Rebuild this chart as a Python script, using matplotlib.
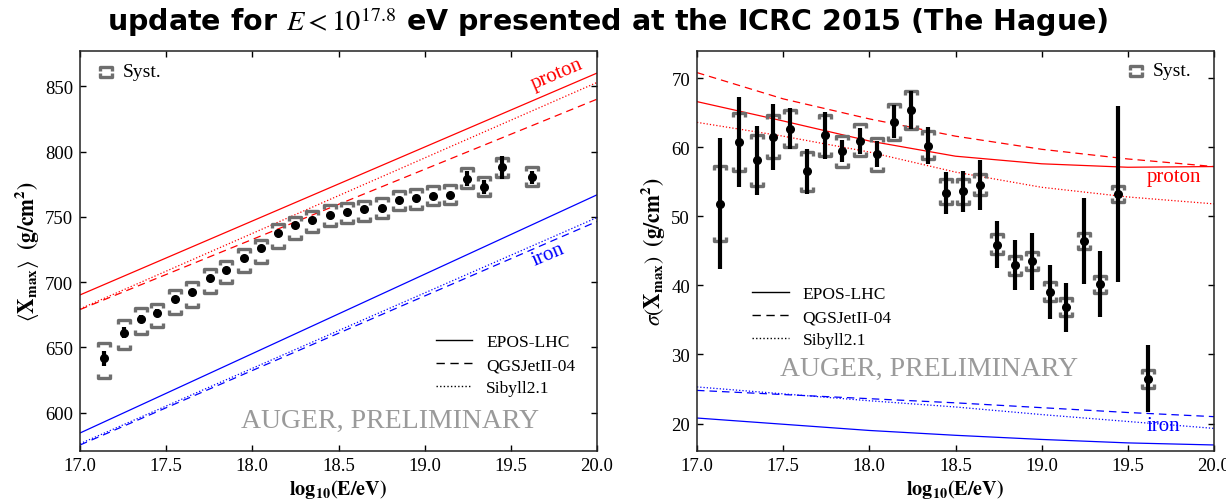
import numpy as np
import matplotlib
matplotlib.use("Agg")
import matplotlib.pyplot as plt
from matplotlib.path import Path
from matplotlib.lines import Line2D

plt.rcParams['font.family'] = ['Liberation Serif', 'DejaVu Serif']
plt.rcParams['mathtext.fontset'] = 'stix'

# ---- <Xmax> data (left panel)
lgE_mean = [17.14, 17.255, 17.355, 17.448, 17.552, 17.65, 17.753, 17.849, 17.95, 18.05,
            18.148, 18.25, 18.349, 18.449, 18.549, 18.648, 18.75, 18.851, 18.949, 19.049,
            19.148, 19.248, 19.343, 19.451, 19.623]
xmax_mean = [641.6, 661.3, 672.1, 676.7, 687.4, 692.8, 703.5, 709.4, 718.6, 725.8,
             737.3, 743.9, 747.7, 751.8, 754.1, 755.7, 756.9, 763.0, 764.1, 766.1,
             766.9, 779.4, 772.8, 787.9, 780.2]
xmax_stat = [5.5, 4.0, 2.5, 2.5, 2.0, 2.0, 2.0, 2.0, 2.0, 2.0,
             2.0, 2.0, 2.0, 2.0, 2.0, 2.0, 2.0, 2.0, 2.0, 2.5,
             2.5, 5.5, 5.5, 8.5, 5.0]
xmax_syst_hi = [653.7, 671.0, 680.5, 683.0, 694.0, 700.4, 710.4, 716.4, 725.2, 732.4,
                744.4, 750.3, 754.6, 759.2, 761.0, 762.3, 764.1, 770.0, 771.2, 773.8,
                774.3, 787.1, 780.7, 795.5, 787.9]
xmax_syst_lo = [626.8, 649.0, 660.0, 665.7, 675.4, 681.3, 692.0, 699.0, 707.8, 715.0,
                726.5, 733.4, 738.5, 743.1, 745.7, 747.0, 749.0, 755.1, 756.4, 759.0,
                759.8, 772.5, 766.1, 780.2, 773.3]

# model lines <Xmax>, values at lgE 17 and 20
lgE_line = [17.0, 20.0]
xmax_p_epos = [690.2, 860.2]
xmax_p_qgs = [679.0, 840.2]
xmax_p_sib = [679.5, 853.0]
xmax_fe_epos = [584.4, 766.9]
xmax_fe_qgs = [575.2, 746.5]
xmax_fe_sib = [576.2, 749.5]

# ---- sigma(Xmax) data (right panel)
lgE_sigma = [17.132, 17.244, 17.347, 17.441, 17.54, 17.638, 17.743, 17.841, 17.943, 18.042,
             18.141, 18.241, 18.343, 18.442, 18.544, 18.643, 18.741, 18.846, 18.942, 19.047,
             19.141, 19.244, 19.338, 19.444, 19.618]
sigma_mean = [51.8, 60.8, 58.1, 61.5, 62.7, 56.5, 61.7, 59.4, 60.9, 59.0,
              63.7, 65.4, 60.2, 53.4, 53.6, 54.5, 45.9, 42.9, 43.5, 39.0,
              36.8, 46.4, 40.2, 53.2, 26.5]
sigma_stat = [9.5, 6.5, 5.0, 4.8, 3.0, 3.2, 3.4, 1.6, 1.9, 1.85,
              2.4, 2.8, 2.7, 3.0, 3.0, 3.6, 3.4, 3.6, 4.1, 3.9,
              3.6, 6.2, 4.8, 12.7, 4.8]
sigma_syst_hi = [57.3, 65.0, 61.8, 64.6, 65.4, 59.3, 64.6, 61.6, 63.4, 61.4,
                 66.3, 68.2, 62.4, 55.4, 55.4, 56.1, 47.5, 44.2, 44.8, 40.5,
                 38.2, 47.6, 41.3, 54.4, 27.8]
sigma_syst_lo = [46.4, 56.6, 54.4, 58.4, 60.0, 53.7, 58.7, 57.2, 58.7, 56.6,
                 61.1, 62.6, 58.3, 51.8, 51.8, 53.1, 44.5, 41.5, 42.2, 37.8,
                 35.5, 45.3, 38.9, 52.0, 25.1]

lgE_curve = [17.0, 17.5, 18.0, 18.5, 19.0, 19.5, 20.0]
sig_p_epos = [66.6, 63.8, 60.9, 58.7, 57.6, 57.1, 57.2]
sig_p_qgs = [70.8, 67.0, 64.1, 61.6, 59.7, 58.3, 57.2]
sig_p_sib = [63.6, 61.6, 59.3, 56.4, 54.2, 52.8, 51.8]
sig_fe_epos = [20.8, 19.9, 19.0, 18.3, 17.7, 17.2, 16.9]
sig_fe_qgs = [24.8, 24.2, 23.6, 23.0, 22.3, 21.6, 21.0]
sig_fe_sib = [25.3, 24.3, 23.3, 22.4, 21.3, 20.3, 19.3]

model_names = ['EPOS-LHC', 'QGSJetII-04', 'Sibyll2.1']

# bracket markers for the systematic band
top_br = Path([(-1, -0.8), (-1, 0), (1, 0), (1, -0.8)],
              [Path.MOVETO, Path.LINETO, Path.LINETO, Path.LINETO])
bot_br = Path([(-1, 0.8), (-1, 0), (1, 0), (1, 0.8)],
              [Path.MOVETO, Path.LINETO, Path.LINETO, Path.LINETO])
syst_col = '#6e6e6e'
dash = (0, (6, 4))
dot = (0, (1, 1.6))


def draw_panel(ax, x, y, stat, s_hi, s_lo):
    ax.plot(x, s_hi, ls='none', marker=top_br, ms=8, mfc='none', mec=syst_col, mew=2.4)
    ax.plot(x, s_lo, ls='none', marker=bot_br, ms=8, mfc='none', mec=syst_col, mew=2.4)
    ax.errorbar(x, y, yerr=stat, fmt='o', color='black', ms=5.5, elinewidth=3, capsize=0)


def style_axes(ax):
    ax.set_xlim(17.0, 20.0)
    ax.set_xticks(np.arange(17.0, 20.01, 0.5))
    ax.xaxis.set_major_formatter(plt.FormatStrFormatter('%.1f'))
    ax.tick_params(direction='in', length=4.5, width=1, top=True, right=True,
                   labelsize=13.5, pad=5)
    for s in ax.spines.values():
        s.set_linewidth(1.1)
        s.set_color('#222222')
    ax.set_xlabel(r'$\mathbf{log_{10}(E/eV)}$', fontsize=14.5, labelpad=2)


def syst_key(ax, xb, xt, y):
    ax.plot([xb], [y + 0.012], transform=ax.transAxes, marker=top_br, ms=8,
            mfc='none', mec=syst_col, mew=2.4, ls='none')
    ax.plot([xb], [y - 0.012], transform=ax.transAxes, marker=bot_br, ms=8,
            mfc='none', mec=syst_col, mew=2.4, ls='none')
    ax.text(xt, y, 'Syst.', transform=ax.transAxes, fontsize=14, va='center', ha='left')


fig = plt.figure(figsize=(12.26, 5.02), dpi=100)
ax1 = fig.add_axes([80 / 1226, 50.5 / 502, 517 / 1226, 400 / 502])
ax2 = fig.add_axes([697 / 1226, 50.5 / 502, 517 / 1226, 400 / 502])

# left panel
lw = 0.9
ax1.plot(lgE_line, xmax_p_epos, color='red', lw=lw)
ax1.plot(lgE_line, xmax_p_qgs, color='red', lw=lw, ls=dash)
ax1.plot(lgE_line, xmax_p_sib, color='red', lw=lw, ls=dot)
ax1.plot(lgE_line, xmax_fe_epos, color='blue', lw=lw)
ax1.plot(lgE_line, xmax_fe_qgs, color='blue', lw=lw, ls=dash)
ax1.plot(lgE_line, xmax_fe_sib, color='blue', lw=lw, ls=dot)
draw_panel(ax1, lgE_mean, xmax_mean, xmax_stat, xmax_syst_hi, xmax_syst_lo)
style_axes(ax1)
ax1.set_ylim(571, 877.5)
ax1.set_yticks([600, 650, 700, 750, 800, 850])
ax1.set_ylabel(r'$\langle\mathbf{X_{max}}\rangle\ \ \mathbf{(g/cm^2)}$', fontsize=15.5, labelpad=3)
ax1.text(19.77, 859.5, 'proton', color='red', fontsize=15, rotation=23,
         ha='center', va='center')
ax1.text(19.72, 721.5, 'iron', color='blue', fontsize=15, rotation=23,
         ha='center', va='center')
ax1.text(0.60, 0.074, 'AUGER, PRELIMINARY', transform=ax1.transAxes, color='#9a9a9a',
         fontsize=20, ha='center', va='center')
syst_key(ax1, 0.051, 0.082, 0.947)

# right panel
ax2.plot(lgE_curve, sig_p_epos, color='red', lw=lw)
ax2.plot(lgE_curve, sig_p_qgs, color='red', lw=lw, ls=dash)
ax2.plot(lgE_curve, sig_p_sib, color='red', lw=lw, ls=dot)
ax2.plot(lgE_curve, sig_fe_epos, color='blue', lw=lw)
ax2.plot(lgE_curve, sig_fe_qgs, color='blue', lw=lw, ls=dash)
ax2.plot(lgE_curve, sig_fe_sib, color='blue', lw=lw, ls=dot)
draw_panel(ax2, lgE_sigma, sigma_mean, sigma_stat, sigma_syst_hi, sigma_syst_lo)
style_axes(ax2)
ax2.set_ylim(16.1, 74.0)
ax2.set_yticks([20, 30, 40, 50, 60, 70])
ax2.set_ylabel(r'$\sigma(\mathbf{X_{max}})\ \ \mathbf{(g/cm^2)}$', fontsize=15.5, labelpad=3)
ax2.text(19.766, 55.7, 'proton', color='red', fontsize=15, ha='center', va='center')
ax2.text(19.707, 19.75, 'iron', color='blue', fontsize=15, ha='center', va='center')
ax2.text(0.449, 0.206, 'AUGER, PRELIMINARY', transform=ax2.transAxes, color='#9a9a9a',
         fontsize=20, ha='center', va='center')
syst_key(ax2, 0.85, 0.881, 0.949)

# model legends
handles = [Line2D([], [], color='black', lw=1.0),
           Line2D([], [], color='black', lw=1.0, ls=dash),
           Line2D([], [], color='black', lw=1.0, ls=dot)]
for ax, anchor in ((ax1, (0.665, 0.105)), (ax2, (0.083, 0.225))):
    ax.legend(handles, model_names, loc='lower left', bbox_to_anchor=anchor,
              frameon=False, fontsize=12.5, handlelength=2.1, handletextpad=0.8,
              labelspacing=0.4, borderpad=0.2)

fig.text(0.496, 0.955, r'update for $E < 10^{17.8}$ eV presented at the ICRC 2015 (The Hague)',
         ha='center', va='center', fontsize=20.5, fontweight='bold', family='DejaVu Sans')

fig.savefig('out.png', dpi=100)
